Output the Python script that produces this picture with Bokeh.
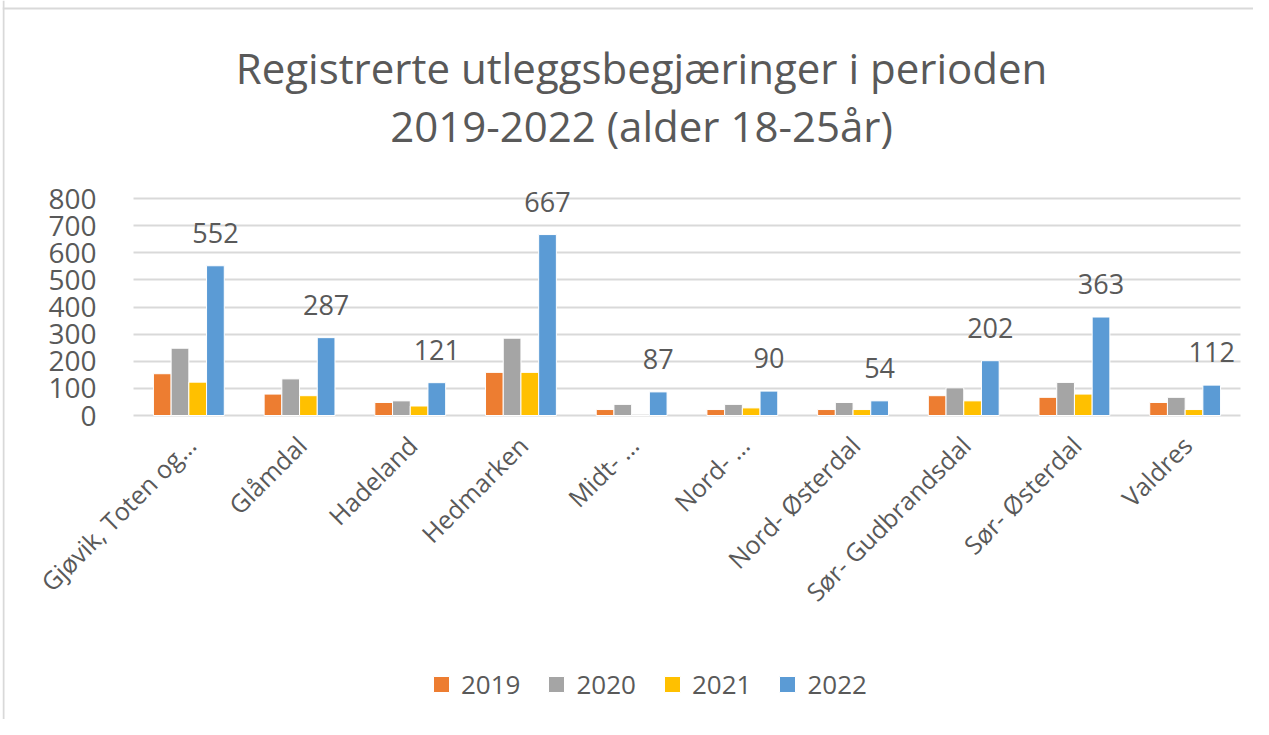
import math
from bokeh.plotting import figure
from bokeh.models import (ColumnDataSource, Legend, LegendItem, Range1d, Label, LabelSet, Span)
from bokeh.transform import dodge
from bokeh.core.properties import value
from bokeh.embed import file_html
from bokeh.resources import INLINE

categories = ["Gjøvik, Toten og…", "Glåmdal", "Hadeland", "Hedmarken", "Midt- …",
              "Nord- …", "Nord- Østerdal", "Sør- Gudbrandsdal", "Sør- Østerdal", "Valdres"]
years = ["2019", "2020", "2021", "2022"]
v2019 = [154, 79, 48, 159, 22, 22, 22, 73, 67, 48]
v2020 = [248, 135, 54, 285, 41, 41, 48, 102, 122, 67]
v2021 = [123, 73, 35, 159, 0, 28, 22, 54, 79, 22]
v2022 = [552, 287, 121, 667, 87, 90, 54, 202, 363, 112]
colors = ["#ED7D31", "#A5A5A5", "#FFC000", "#5B9BD5"]
y_ticks = [0, 100, 200, 300, 400, 500, 600, 700, 800]
title_lines = ["Registrerte utleggsbegjæringer i perioden", "2019-2022 (alder 18-25år)"]

FONT = "Open Sans"
TXT = "#595959"
GRID = "#d9d9d9"
W, H = 1253, 719
N = len(categories)

# layout (canvas pixels): plot area x 133..1240, value 0 at y 415, value 800 at y 198
FRAME_LEFT = 2
PX_PER_CAT = (1240 - 133) / N
X_START = -(133 - FRAME_LEFT) / PX_PER_CAT
X_END = N + (W - 1240) / PX_PER_CAT
PX_PER_UNIT = 217 / 800
Y_TOP = 800 + 198 / PX_PER_UNIT
Y_BOTTOM = -(H - 415) / PX_PER_UNIT

pos = [i + 0.5 for i in range(N)]
src = ColumnDataSource(dict(cat=categories, pos=pos, v2019=v2019, v2020=v2020, v2021=v2021,
                            v2022=v2022, lbl=[str(v) for v in v2022], zero=[0] * N))

p = figure(x_range=Range1d(X_START, X_END), y_range=Range1d(Y_BOTTOM, Y_TOP),
           width=W, height=H, title=None, x_axis_location=None,
           output_backend="svg", toolbar_location=None,
           min_border_left=FRAME_LEFT, min_border_right=0,
           min_border_top=0, min_border_bottom=0)
p.outline_line_color = None
p.background_fill_color = "white"
p.border_fill_color = "white"

# chart-area border (top and left edges visible in the reference)
p.add_layout(Span(location=H - 8, location_units="screen", dimension="width",
                  line_color=GRID, line_width=2))
p.add_layout(Span(location=1, location_units="screen", dimension="height",
                  line_color=GRID, line_width=2))

# gridlines only across the plot area
p.xgrid.grid_line_color = None
g = p.ygrid[0]
if "cross_bounds" in g.properties():
    g.grid_line_color = GRID
    g.grid_line_width = 2
    g.cross_bounds = (0, N)
else:
    g.grid_line_color = None
    p.segment(x0=0, x1=N, y0=y_ticks, y1=y_ticks, line_color=GRID, line_width=2)

offsets = [-0.24, -0.08, 0.08, 0.24]
renderers = []
for yr, off, col in zip(years, offsets, colors):
    r = p.vbar(x=dodge("pos", off), top="v" + yr, bottom=0, width=0.16,
               source=src, fill_color=col, line_color="white", line_width=1)
    renderers.append(r)

# data labels for 2022
p.text(x=dodge("pos", 0.24), y="v2022", text="lbl", source=src,
       y_offset=-33, text_align="center", text_baseline="middle",
       text_font=value(FONT), text_font_size="27px", text_color=TXT)

# category labels (rotated 45 degrees) below the zero line
cat_labels = LabelSet(x="pos", y="zero", text="cat", source=src, angle=math.pi / 4,
                      x_offset=2, y_offset=-25, text_align="right", text_baseline="middle",
                      text_font=value(FONT), text_font_size="25px", text_color=TXT)
p.add_layout(cat_labels)

# y axis (labels drawn to the right of the frame edge, left of the plot area)
p.yaxis.ticker = y_ticks
p.yaxis.axis_line_color = None
p.yaxis.major_tick_line_color = None
p.yaxis.minor_tick_line_color = None
p.yaxis.major_label_text_font = FONT
p.yaxis.major_label_text_font_size = "28px"
p.yaxis.major_label_text_color = TXT
p.yaxis.major_label_standoff = -(102 - FRAME_LEFT)

# title (screen units relative to the plot frame, y measured from bottom)
for i, t in enumerate(title_lines):
    p.add_layout(Label(x=641 - FRAME_LEFT, y=H - 67 - i * 58, x_units="screen",
                       y_units="screen", text=t, text_align="center", text_baseline="middle",
                       text_font=FONT, text_font_size="42px", text_color=TXT))

legend = Legend(items=[LegendItem(label=yr, renderers=[r]) for yr, r in zip(years, renderers)],
                orientation="horizontal", location=(431 - FRAME_LEFT, 17),
                glyph_width=20, glyph_height=20,
                label_standoff=10, spacing=26, padding=0, margin=0, border_line_color=None,
                background_fill_alpha=0, label_text_font=FONT, label_text_font_size="26px",
                label_text_color=TXT)
p.add_layout(legend, "center")

open("out.html", "w").write(file_html(p, INLINE))
